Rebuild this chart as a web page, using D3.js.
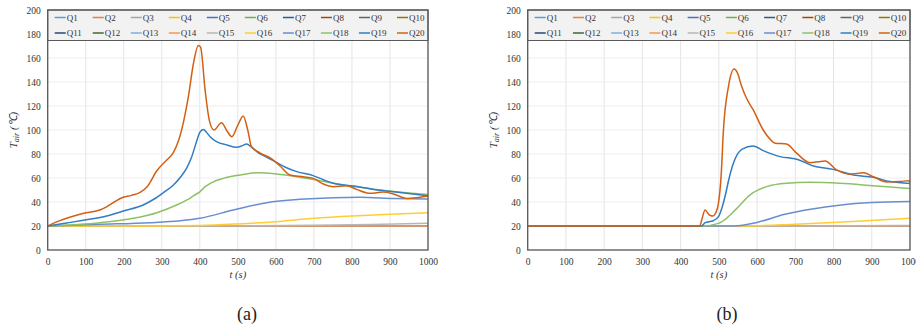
<!DOCTYPE html>
<html>
<head>
<meta charset="utf-8">
<script src="https://cdn.jsdelivr.net/npm/d3@7"></script>
<style>
  body { margin: 0; background: #fff; }
  text { font-family: "Liberation Serif", "Times New Roman", serif; }
</style>
</head>
<body>
<svg id="chart"></svg>
<script>
const width = 916;
const height = 330;

const seriesNames = d3.range(1, 21).map(i => "Q" + i);
const seriesColors = [
  "#5b9bd5", "#ed7d31", "#a5a5a5", "#ffc000", "#4472c4", "#70ad47",
  "#255e91", "#9e480e", "#636363", "#997300", "#264478", "#43682b",
  "#7cafdd", "#f1975a", "#b7b7b7", "#ffcd33", "#698ed0", "#8cc168",
  "#327dc2", "#d26012"
];
const xTicks = [0, 100, 200, 300, 400, 500, 600, 700, 800, 900, 1000];
const yTicks = [0, 20, 40, 60, 80, 100, 120, 140, 160, 180, 200];

// flat ambient curve (Q1..Q14 sit at 20 all the time)
const flat = [[0, 20], [1000, 20]];

// panel (a)
const a_Q15 = [[0, 20], [550, 20.2], [700, 20.6], [850, 21.3], [1000, 22.2]];
const a_Q16 = [[0, 20], [300, 20.1], [400, 20.4], [500, 21.7], [600, 23.6], [700, 26.4], [800, 28.3], [900, 29.7], [1000, 31]];
const a_Q17 = [[0, 20], [137, 21.4], [269, 22.8], [348, 24.4], [400, 26.4], [488, 33.3], [576, 39.4], [663, 42.2], [751, 43.6], [821, 43.9], [909, 43], [1000, 42.5]];
const a_Q18 = [[0, 20], [137, 22.8], [225, 26.4], [287, 31.1], [339, 37.5], [365, 41.5], [385, 45.5], [400, 48.5], [415, 53], [430, 56], [462, 59.7], [506, 62.5], [554, 64.4], [602, 63.3], [655, 61.1], [707, 58.3], [760, 55], [821, 52.2], [891, 49.4], [1000, 46.2]];
const a_Q19 = [[0, 20], [50, 22.5], [98, 25], [155, 28.3], [199, 32.5], [251, 37.5], [280, 42.5], [305, 48], [330, 54], [350, 61], [365, 68], [378, 77], [390, 89], [400, 98], [409, 100.5], [418, 98], [427, 94.4], [444, 90.3], [471, 87.5], [497, 85.6], [512, 87], [523, 88.3], [535, 86], [554, 81], [575, 77.5], [598, 73.6], [625, 69], [655, 65.3], [698, 62], [725, 58.5], [751, 55.6], [804, 53.3], [856, 50.5], [909, 48.6], [1000, 45.3]];
const a_Q20 = [[0, 20], [25, 23.6], [60, 27.5], [100, 31], [137, 33.3], [155, 36], [175, 40], [195, 43.5], [220, 45.5], [243, 48], [262, 53], [287, 66], [313, 75], [330, 81], [345, 92], [358, 108], [370, 128], [383, 155], [396, 170.5], [402, 169], [414, 133], [425, 108], [437, 100], [457, 106], [472, 99], [484, 94.4], [500, 104], [514, 111.7], [526, 100], [536, 86], [558, 81], [589, 76], [611, 70], [637, 62.5], [672, 61], [698, 59.7], [725, 55], [751, 52.8], [786, 53.6], [812, 50.5], [848, 47.2], [882, 48.3], [909, 46.7], [944, 43], [970, 43.6], [1000, 45]];

// panel (b)
const b_Q15 = [[0, 20], [700, 20.1], [1000, 20.4]];
const b_Q16 = [[0, 20], [560, 20], [700, 21.5], [850, 23.8], [1000, 26.4]];
const b_Q17 = [[0, 20], [540, 20], [600, 23], [670, 29.5], [740, 34], [820, 37.5], [900, 39.5], [1000, 40.5]];
const b_Q18 = [[0, 20], [455, 20], [499, 22.2], [520, 26.4], [547, 34.7], [581, 45.8], [625, 52.8], [677, 55.6], [738, 56.4], [817, 55.6], [904, 53.6], [1000, 51.3]];
const b_Q19 = [[0, 20], [455, 20], [464, 22.8], [485, 24.4], [499, 27.8], [508, 35], [516, 44.4], [527, 60], [538, 72.2], [560, 83.9], [590, 86.7], [616, 82.8], [660, 77.8], [704, 75.6], [747, 70], [799, 67.2], [852, 62.5], [904, 60.6], [948, 57], [1000, 55.5]];
const b_Q20 = [[0, 20], [450, 20], [456, 26], [464, 33.3], [474, 29.5], [484, 28.3], [492, 31], [499, 39], [506, 62], [512, 100], [525, 136], [540, 150.8], [548, 148], [560, 136], [573, 126], [590, 116.7], [616, 100], [635, 92], [647, 89], [677, 88.3], [704, 80.5], [738, 72.8], [760, 73.5], [778, 74.2], [808, 66.7], [843, 63.3], [878, 64.4], [904, 61.1], [939, 56.7], [974, 57], [995, 57.8], [1000, 57]];

const panelASeries = seriesNames.map((n, i) => [a_Q15, a_Q16, a_Q17, a_Q18, a_Q19, a_Q20][i - 14] || flat);
const panelBSeries = seriesNames.map((n, i) => [b_Q15, b_Q16, b_Q17, b_Q18, b_Q19, b_Q20][i - 14] || flat);

const svg = d3.select("#chart")
  .attr("width", width)
  .attr("height", height);

function drawPanel(series, left, right, labelX, captionX, caption) {
  const top = 10, bottom = 250;

  const x = d3.scaleLinear().domain([0, 1000]).range([left, right]);
  const y = d3.scaleLinear().domain([0, 200]).range([bottom, top]);

  const g = svg.append("g");

  // grid
  g.selectAll(".vgrid")
    .data(xTicks)
    .enter()
    .append("line")
    .attr("x1", d => x(d)).attr("x2", d => x(d))
    .attr("y1", top).attr("y2", bottom)
    .attr("stroke", "#e4e4e4")
    .attr("stroke-width", 1);

  g.selectAll(".hgrid")
    .data(yTicks)
    .enter()
    .append("line")
    .attr("x1", left).attr("x2", right)
    .attr("y1", d => y(d)).attr("y2", d => y(d))
    .attr("stroke", "#eeeeee")
    .attr("stroke-width", 1);

  // axes
  const xAxis = g.append("g")
    .attr("transform", `translate(0, ${bottom})`)
    .call(d3.axisBottom(x).tickValues(xTicks).tickFormat(d3.format("d")).tickSize(0).tickPadding(8));
  xAxis.select(".domain").remove();
  xAxis.selectAll("text")
    .attr("font-size", "9.5px")
    .attr("fill", "#333");

  const yAxis = g.append("g")
    .attr("transform", `translate(${left}, 0)`)
    .call(d3.axisLeft(y).tickValues(yTicks).tickSize(0).tickPadding(7));
  yAxis.select(".domain").remove();
  yAxis.selectAll("text")
    .attr("font-size", "9.5px")
    .attr("fill", "#333");

  // lines
  const line = d3.line()
    .x(d => x(d[0]))
    .y(d => y(d[1]))
    .curve(d3.curveMonotoneX);

  g.selectAll(".series")
    .data(series)
    .enter()
    .append("path")
    .attr("d", line)
    .attr("fill", "none")
    .attr("stroke", (d, i) => seriesColors[i])
    .attr("stroke-width", 1.5);

  // legend box sits on top of the plot
  const colW = (right - left) / 10;
  const legend = g.append("g");
  legend.append("rect")
    .attr("x", left).attr("y", top)
    .attr("width", right - left).attr("height", 30.5)
    .attr("fill", "#f2f2f2")
    .attr("stroke", "#595959")
    .attr("stroke-width", 1);

  const items = legend.selectAll(".item")
    .data(seriesNames)
    .enter()
    .append("g")
    .attr("transform", (d, i) => `translate(${left + 7 + (i % 10) * colW}, ${top + 7.5 + Math.floor(i / 10) * 15.5})`);

  items.append("line")
    .attr("x1", 0).attr("x2", 11)
    .attr("stroke", (d, i) => seriesColors[i])
    .attr("stroke-width", 1.5);

  items.append("text")
    .attr("x", 12)
    .attr("dy", "0.35em")
    .attr("font-size", "9px")
    .attr("fill", "#333")
    .text(d => d);

  // frame
  g.append("rect")
    .attr("x", left).attr("y", top)
    .attr("width", right - left).attr("height", bottom - top)
    .attr("fill", "none")
    .attr("stroke", "#595959")
    .attr("stroke-width", 1.3);

  // axis titles
  const yt = g.append("text")
    .attr("transform", `translate(${labelX}, ${(top + bottom) / 2}) rotate(-90)`)
    .attr("text-anchor", "middle")
    .attr("font-size", "11px")
    .attr("font-style", "italic")
    .attr("fill", "#333");
  yt.append("tspan").text("T");
  yt.append("tspan").attr("font-size", "8px").attr("dy", "2").text("air");
  yt.append("tspan").attr("dy", "-2").text(" (℃)");

  g.append("text")
    .attr("x", (left + right) / 2)
    .attr("y", 278)
    .attr("text-anchor", "middle")
    .attr("font-size", "10.5px")
    .attr("font-style", "italic")
    .attr("fill", "#333")
    .text("t (s)");

  g.append("text")
    .attr("x", captionX)
    .attr("y", 320)
    .attr("text-anchor", "middle")
    .attr("font-size", "18px")
    .attr("fill", "#222")
    .text(caption);
}

drawPanel(panelASeries, 47.7, 428, 17, 247, "(a)");
drawPanel(panelBSeries, 527.7, 910, 497, 727, "(b)");
</script>
</body>
</html>
